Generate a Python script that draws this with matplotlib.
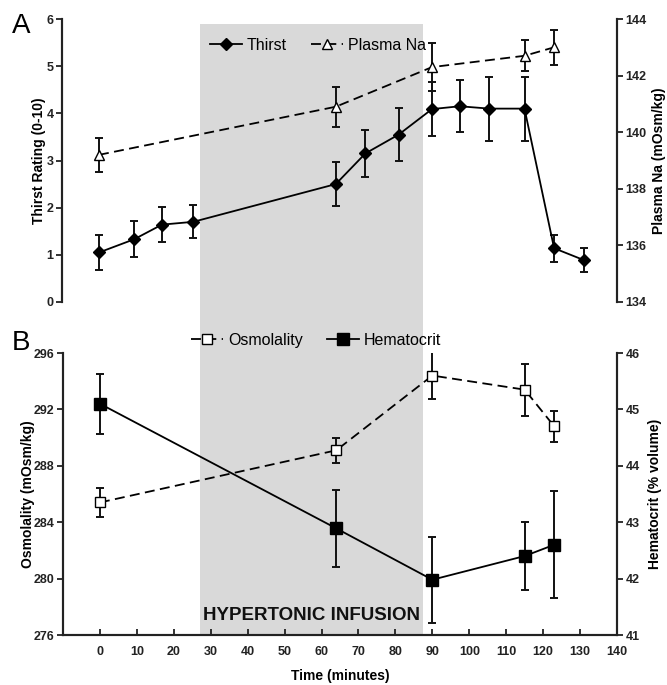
import matplotlib
matplotlib.use("Agg")
import matplotlib.pyplot as plt
from matplotlib.patches import Rectangle
from matplotlib.lines import Line2D
import matplotlib.transforms as mtransforms

plt.rcParams['font.family'] = ['Liberation Sans', 'DejaVu Sans']

# ---- Data ----
thirst_t = [0, 9.5, 17, 25.5, 64, 72, 81, 90, 97.5, 105.5, 115, 123, 131]
thirst = [1.05, 1.33, 1.64, 1.70, 2.50, 3.15, 3.55, 4.09, 4.15, 4.10, 4.10, 1.14, 0.89]
thirst_err = [0.37, 0.38, 0.37, 0.35, 0.47, 0.50, 0.57, 0.57, 0.55, 0.68, 0.68, 0.29, 0.25]

na_t = [0, 64, 90, 115, 123]
na = [139.2, 140.9, 142.3, 142.7, 143.0]
na_err = [0.6, 0.7, 0.85, 0.55, 0.62]

osmo_t = [0, 64, 90, 115, 123]
osmo = [285.4, 289.1, 294.4, 293.4, 290.8]
osmo_err = [1.0, 0.9, 1.65, 1.85, 1.1]

hct_t = [0, 64, 90, 115, 123]
hct = [45.10, 42.89, 41.98, 42.40, 42.60]
hct_err = [0.53, 0.68, 0.76, 0.60, 0.95]

infusion_start, infusion_end = 27.2, 87.6
x_ticks = list(range(0, 141, 10))

# ---- Figure ----
W, H = 667, 685
fig = plt.figure(figsize=(W / 100, H / 100), dpi=100)

def frac(l, t, r, b):
    return [l / W, 1 - b / H, (r - l) / W, (b - t) / H]

axA = fig.add_axes(frac(62, 19, 617, 302))
axB = fig.add_axes(frac(63, 353, 617, 635))
axA2 = axA.twinx()
axB2 = axB.twinx()

spine_c = '#222222'
label_font = dict(fontsize=10, fontweight='bold')

for ax in (axA, axB, axA2, axB2):
    ax.set_facecolor('none')
    ax.set_xlim(-10, 140)
    for s in ax.spines.values():
        s.set_color(spine_c)
        s.set_linewidth(1.5)
    ax.spines['top'].set_visible(False)

for ax in (axA, axA2):
    ax.spines['bottom'].set_visible(False)
    ax.tick_params(axis='x', bottom=False, labelbottom=False)

# Shaded infusion period (spans both panels)
blend = mtransforms.blended_transform_factory(axB.transData, fig.transFigure)
rect = Rectangle((infusion_start, 1 - 635 / H), infusion_end - infusion_start,
                 (635 - 24) / H, transform=blend, facecolor='#d9d9d9',
                 edgecolor='none', zorder=-1)
fig.add_artist(rect)

dash = (0, (5.5, 3))
lw = 1.3
ekw = dict(fmt='none', ecolor='#111111', elinewidth=1.4, capsize=3, capthick=1.4)

# ---- Panel A ----
axA.errorbar(thirst_t, thirst, yerr=thirst_err, **ekw)
axA.plot(thirst_t, thirst, color='black', lw=lw, marker='D', markersize=6.3,
         markerfacecolor='black', zorder=3)
axA.set_ylim(0, 6)
axA.set_yticks(range(0, 7))
axA.set_ylabel('Thirst Rating (0-10)', **label_font, labelpad=0.5)

axA2.errorbar(na_t, na, yerr=na_err, **ekw)
axA2.plot(na_t, na, color='black', lw=lw, ls=dash, marker='^', markersize=7,
          markerfacecolor='white', markeredgecolor='black', zorder=3)
axA2.set_ylim(134, 144)
axA2.set_yticks(range(134, 145, 2))
axA2.set_ylabel('Plasma Na (mOsm/kg)', **label_font, labelpad=4)

# ---- Panel B ----
axB.errorbar(osmo_t, osmo, yerr=osmo_err, **ekw)
axB.plot(osmo_t, osmo, color='black', lw=lw, ls=dash, marker='s', markersize=7,
         markerfacecolor='white', markeredgecolor='black', zorder=3)
axB.set_ylim(276, 296)
axB.set_yticks(range(276, 297, 4))
axB.set_ylabel('Osmolality (mOsm/kg)', **label_font, labelpad=-1)
axB.set_xticks(x_ticks)
axB.set_xlabel('Time (minutes)', **label_font, labelpad=8)

axB2.errorbar(hct_t, hct, yerr=hct_err, **ekw)
axB2.plot(hct_t, hct, color='black', lw=lw, marker='s', markersize=8.5,
          markerfacecolor='black', zorder=3)
axB2.set_ylim(41, 46)
axB2.set_yticks(range(41, 47))
axB2.set_ylabel('Hematocrit (% volume)', **label_font, labelpad=6)

for ax in (axA, axB, axA2, axB2):
    ax.tick_params(axis='y', direction='out', length=4, width=1.3, colors=spine_c,
                   pad=2)
axB.tick_params(axis='x', direction='in', length=4, width=1.3, colors=spine_c, pad=8)
axB2.tick_params(axis='x', bottom=False, labelbottom=False)

for ax in (axA, axB, axA2, axB2):
    for lab in ax.get_yticklabels() + ax.get_xticklabels():
        lab.set_fontweight('bold')
        lab.set_fontsize(9)
        lab.set_color('#222222')

axB.text((infusion_start + infusion_end) / 2, 277.4, 'HYPERTONIC INFUSION',
         ha='center', va='center', fontsize=13.5, fontweight='bold', color='#111111')

# Panel letters
fig.text(12 / W, 1 - 26 / H, 'A', fontsize=20, ha='left', va='center')
fig.text(12 / W, 1 - 343 / H, 'B', fontsize=20, ha='left', va='center')

# Legends
hA = [Line2D([], [], color='black', lw=lw, marker='D', markersize=6),
      Line2D([], [], color='black', lw=lw, ls=dash, marker='^', markersize=7,
             markerfacecolor='white')]
fig.legend(hA, ['Thirst', 'Plasma Na'], loc='center', bbox_to_anchor=(318 / W, 1 - 45 / H),
           ncol=2, frameon=False, fontsize=11.5, handlelength=2.0, handletextpad=0.3,
           columnspacing=1.5)
hB = [Line2D([], [], color='black', lw=lw, ls=dash, marker='s', markersize=7,
             markerfacecolor='white'),
      Line2D([], [], color='black', lw=lw, marker='s', markersize=8)]
fig.legend(hB, ['Osmolality', 'Hematocrit'], loc='center',
           bbox_to_anchor=(316 / W, 1 - 340 / H), ncol=2, frameon=False, fontsize=11.5,
           handlelength=2.0, handletextpad=0.3, columnspacing=1.5)

fig.savefig('out.png', dpi=100)
